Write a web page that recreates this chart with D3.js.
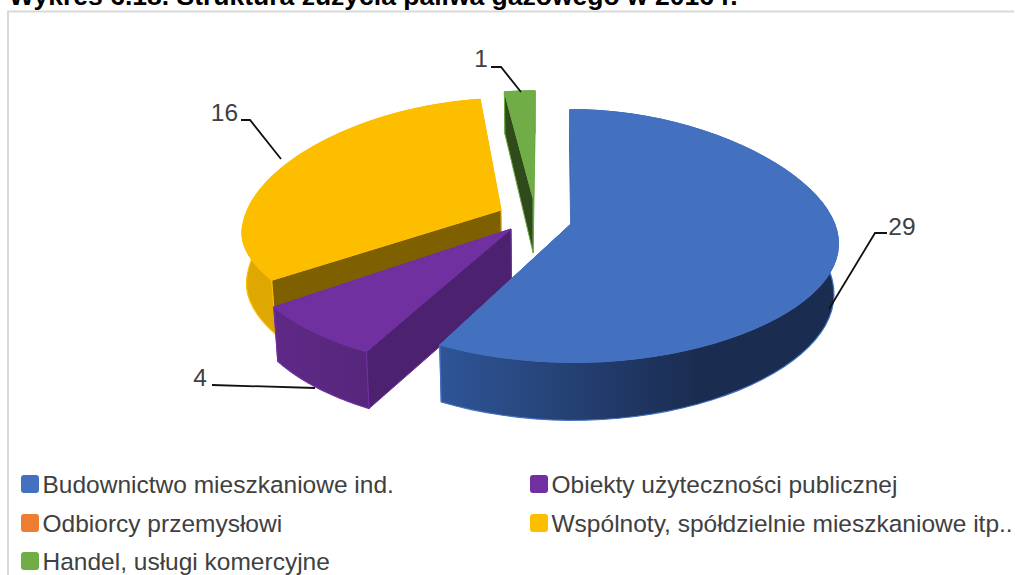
<!DOCTYPE html>
<html><head><meta charset="utf-8">
<script src="https://cdn.jsdelivr.net/npm/d3@7"></script>
<style>html,body{margin:0;padding:0;background:#fff;overflow:hidden}svg{display:block}text{font-family:"Liberation Sans",Arial,sans-serif}</style>
</head><body><svg id="c" width="1015" height="575"></svg>
<script>
const titleText = "Wykres 6.18. Struktura zużycia paliwa gazowego w 2016 r.";
const categories = ["Budownictwo mieszkaniowe ind.","Obiekty użyteczności publicznej","Odbiorcy przemysłowi","Wspólnoty, spółdzielnie mieszkaniowe itp..","Handel, usługi komercyjne"];
const values = [29,4,0,16,1];
const colors = ["#4371c0","#7030a0","#ed7d31","#fdbe00","#70ad47"];
const sideColors = ["#2f5597","#5c2783","#ed7d31","#dfa800","#3d6a22"];
const faceColors = ["#2f5597","#4c2270","#843c0c","#7f6000","#2f4a1b"];

// exploded-slice placement in the projected view
const layout = [
 {cx:572,cy:223,rx:266,ry:.995,sx:-2,bf:.6,bb:.6,order:3},
 {cx:511,cy:229,rx:266,ry:1,sx:12,bf:.6,bb:.6,order:1},
 {cx:520,cy:220,rx:266,ry:1,sx:0,bf:.6,bb:.6,order:-1},
 {cx:501,cy:210,rx:258,ry:.98,sx:10,bf:1.8,bb:.2,order:0},
 {cx:533,cy:198,rx:256,ry:.94,sx:2,bf:.6,bb:.6,order:2}
];
const leaders = [
 {label:"29",pts:[[829,309],[875,233],[887,233]],tx:902,ty:226},
 {label:"4", pts:[[315,388],[212,385]],tx:200,ty:377},
 null,
 {label:"16",pts:[[281,159],[250,120],[241,120]],tx:224.5,ty:112},
 {label:"1", pts:[[521,92],[501,67],[491,67]],tx:481,ty:58}
];

const svg = d3.select("#c");
const defs = svg.append("defs");
const grad = defs.append("linearGradient").attr("id","blueSide").attr("gradientUnits","userSpaceOnUse")
  .attr("x1",440).attr("x2",700).attr("y1",0).attr("y2",0);
grad.append("stop").attr("offset",0).attr("stop-color","#2f5597");
grad.append("stop").attr("offset",1).attr("stop-color","#1a2c50");
const grad2 = defs.append("linearGradient").attr("id","purpleSide").attr("gradientUnits","userSpaceOnUse")
  .attr("x1",272).attr("x2",368).attr("y1",0).attr("y2",0);
grad2.append("stop").attr("offset",0).attr("stop-color","#5e2986");
grad2.append("stop").attr("offset",1).attr("stop-color","#56267c");

svg.append("path").attr("d","M8,575V11.5H1014").attr("fill","none").attr("stroke","#d9d9d9").attr("stroke-width",2);
svg.append("text").attr("x",9).attr("y",5).attr("font-size",26.5).attr("font-weight","bold").attr("fill","#000").text(titleText);

const pie = d3.pie().sort(null).value(d=>d)(values);
const K = 0.1024, KX = 0.05, RY = 125.7, BULGE = 14;
function proj(l,theta){
  const u=Math.sin(theta), v=Math.cos(theta);
  const x = l.cx + l.rx*u/(1+KX*v) + l.sx*v;
  const y = l.cy - RY*l.ry*v/(1+K*v) + BULGE*u*u*Math.max(0,1+(v>0?l.bb:l.bf)*v);
  return [x,y];
}
function drop(p,v){
  const d = 50 - 8*v;
  return [p[0]-0.015*(p[0]-540), p[1]+d];
}
const line = d3.line();
const arcTheta = (a,b)=>d3.range(0,61).map(i=>a+(b-a)*i/60);

pie.map((s,i)=>({s,i})).filter(d=>d.s.value>0)
 .sort((a,b)=>layout[a.i].order-layout[b.i].order)
 .forEach(({s,i})=>{
  const l=layout[i], g=svg.append("g");
  const th=arcTheta(s.startAngle,s.endAngle);
  const top=th.map(t=>proj(l,t));
  const bot=th.map(t=>drop(proj(l,t),Math.cos(t)));
  const apex=[l.cx,l.cy], apexB=drop(apex,-0.6);
  const fill=i===0?"url(#blueSide)":i===1?"url(#purpleSide)":sideColors[i];
  const f0=[top[0],apex,apexB,bot[0]];
  const f1=[top[60],apex,apexB,bot[60]];
  // far radial face, outer wall, near radial face, top surface
  g.append("path").attr("d",line(f1)+"Z").attr("fill",faceColors[i]).attr("stroke",colors[i]).attr("stroke-width",1);
  g.append("path").attr("d",line(top.concat(bot.slice().reverse()))+"Z").attr("fill",fill).attr("stroke",colors[i]).attr("stroke-width",1.2).attr("stroke-linejoin","round");
  g.append("path").attr("d",line(f0)+"Z").attr("fill",faceColors[i]).attr("stroke",colors[i]).attr("stroke-width",1);
  g.append("path").attr("d",line([apex].concat(top))+"Z").attr("fill",colors[i]).attr("stroke",colors[i]).attr("stroke-width",1).attr("stroke-linejoin","round");
 });

leaders.forEach(d=>{
  if(!d) return;
  svg.append("path").attr("d",line(d.pts)).attr("fill","none").attr("stroke","#111").attr("stroke-width",1.8);
  svg.append("text").attr("x",d.tx).attr("y",d.ty).attr("text-anchor","middle").attr("dominant-baseline","central")
     .attr("font-size",24.5).attr("fill","#404040").text(d.label);
});

const legendCols=[21,530], legendRows=[475,514,552];
categories.forEach((c,i)=>{
  const x=legendCols[i%2], y=legendRows[Math.floor(i/2)];
  svg.append("rect").attr("x",x).attr("y",y).attr("width",18).attr("height",18).attr("rx",3).attr("fill",colors[i]);
  svg.append("text").attr("x",x+21.5).attr("y",y+9).attr("dominant-baseline","central").attr("font-size",24.5).attr("fill","#404040").text(c);
});
</script></body></html>
